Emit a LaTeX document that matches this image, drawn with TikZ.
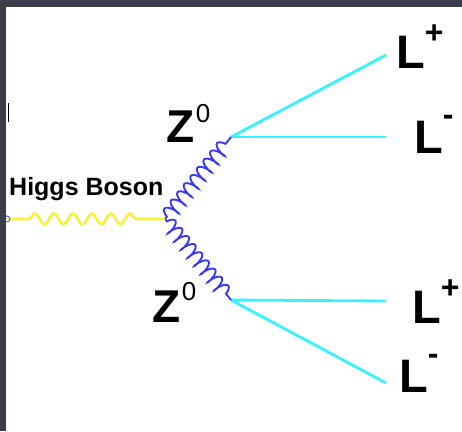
\documentclass[tikz,border=0pt]{standalone}
\usepackage{fontspec}
\setmainfont{Liberation Sans}
\usetikzlibrary{decorations.pathmorphing}
\definecolor{framec}{HTML}{3B3E4A}
\definecolor{higgsy}{HTML}{FAF03C}
\definecolor{zblue}{HTML}{3A3AF6}
\definecolor{lepc}{HTML}{36F4FF}
\newcommand{\plussup}{\raisebox{24.5pt}{\fontsize{32}{32}\selectfont +}}
\newcommand{\minussup}{\raisebox{27.5pt}{\fontsize{32}{32}\selectfont -}}
\newcommand{\zerosup}[1]{\hspace{1.5pt}\raisebox{#1}{\fontsize{26}{26}\selectfont\mdseries 0}}
\tikzset{
  lbl/.style={font=\fontsize{47}{47}\selectfont\bfseries, inner sep=0pt, anchor=base west},
  zlbl/.style={font=\fontsize{46}{46}\selectfont\bfseries, inner sep=0pt, anchor=base west},
  higgslbl/.style={font=\fontsize{25}{25}\selectfont\bfseries, inner sep=0pt, anchor=base west},
  lepline/.style={lepc, line width=2.8pt},
  zline/.style={zblue, line width=1.9pt, decorate,
    decoration={coil, aspect=0.3, segment length=10.5pt, amplitude=7pt, pre length=3pt, post length=3pt}},
  hline/.style={higgsy, line width=2.6pt, decorate,
    decoration={snake, segment length=19pt, amplitude=5.5pt, pre length=22pt, post length=20pt}}
}
\begin{document}
\begin{tikzpicture}[x=1pt, y=-1pt]
\useasboundingbox (0,0) rectangle (462,431);
\fill[white] (0,0) rectangle (462,431);
% coordinates
\coordinate (h) at (7,219);
\coordinate (v) at (165,219);
\coordinate (z1) at (231,137);
\coordinate (z2) at (231,300);
\coordinate (e1) at (386,55);
\coordinate (e2) at (386,137);
\coordinate (e3) at (386,301);
\coordinate (e4) at (386,383);
% lepton lines
\draw[lepline] (z1) -- (e1);
\draw[lepline] (z1) -- (e2);
\draw[lepline] (z2) -- (e3);
\draw[lepline] (z2) -- (e4);
% Z bosons
\draw[zline] (v) -- (z1);
\draw[zline] (v) -- (z2);
% Higgs
\draw[hline] (h) -- (v);
\draw[zblue!80, line width=1pt] (h) circle[radius=3pt];
% stray mark
\draw[black, line width=1.6pt] (8.5,103) -- (8.5,122);
% labels
\node[higgslbl] (higgs) at (9,195) {Higgs Boson};
\node[zlbl] (zt) at (166,142) {Z\zerosup{20pt}};
\node[zlbl] (zb) at (152,322) {Z\zerosup{22pt}};
\node[lbl] (l1) at (396,68) {L\plussup};
\node[lbl] (l2) at (414,153) {L\minussup};
\node[lbl] (l3) at (412,323) {L\plussup};
\node[lbl] (l4) at (399,392) {L\minussup};
% frame
\fill[framec] (0,0) rectangle (462,7);
\fill[framec] (0,0) rectangle (6,431);
\end{tikzpicture}
\end{document}
